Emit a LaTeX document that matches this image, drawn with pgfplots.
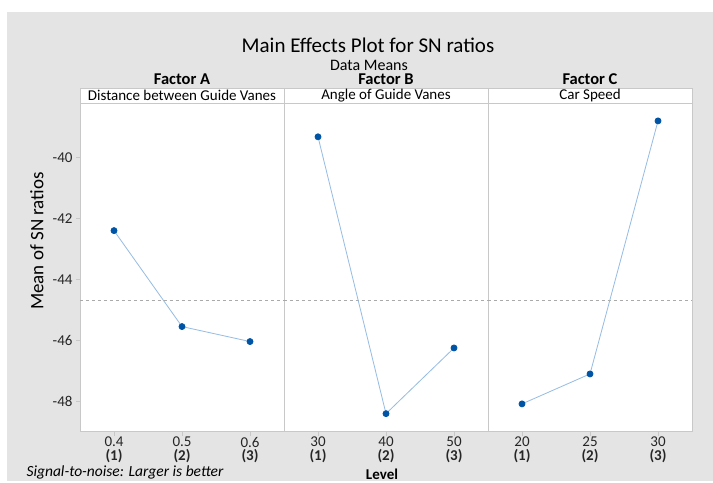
\documentclass[border=0pt]{standalone}
\usepackage{pgfplots}
\usepackage{pgfplotstable}
\pgfplotsset{compat=1.18}
\usepackage{fontspec}
\setmainfont{Carlito}
\definecolor{bg}{RGB}{228,228,228}
\definecolor{frame}{RGB}{200,200,200}
\definecolor{lineblue}{RGB}{150,188,228}
\definecolor{markblue}{RGB}{0,84,166}
\definecolor{meangray}{RGB}{170,170,170}

\pgfplotstableread{
lvl sn
1 -42.40
2 -45.54
3 -46.03
}\dataA
\pgfplotstableread{
lvl sn
1 -39.33
2 -48.39
3 -46.24
}\dataB
\pgfplotstableread{
lvl sn
1 -48.07
2 -47.09
3 -38.81
}\dataC

\begin{document}
\begin{tikzpicture}[x=1bp,y=1bp]
\path (0,0) rectangle (713,481);
\fill[bg] (7,0) rectangle (713,469);
\pgfplotsset{panel/.style={
  anchor=south west, scale only axis, width=204bp, height=328.2bp,
  xmin=0.5, xmax=3.5, ymin=-48.98, ymax=-38.24,
  axis background/.style={fill=white},
  axis line style={frame, line width=0.6bp},
  tick style={frame, line width=0.6bp}, tick align=outside,
  major tick length=4bp,
  xtick={1,2,3},
  xticklabel style={align=center, font=\fontsize{15bp}{13.5bp}\selectfont, inner sep=1bp, text=black!85},
  yticklabel style={font=\fontsize{15bp}{15bp}\selectfont, text=black!85},
  clip=false,
}}
\begin{axis}[panel, name=A, at={(80bp,49.3bp)},
  ytick={-48,-46,-44,-42,-40}, yticklabels={{-48},{-46},{-44},{-42},{-40}},
  xticklabels={{0.4\\\textbf{(1)}},{0.5\\\textbf{(2)}},{0.6\\\textbf{(3)}}}]
\addplot[meangray, dashed, line width=0.8bp] coordinates {(0.5,-44.69) (3.5,-44.69)};
\addplot[lineblue, line width=0.8bp, mark=*, mark size=3bp, mark options={markblue, fill=markblue}] table[x=lvl, y=sn] {\dataA};
\end{axis}
\begin{axis}[panel, name=B, at={(284bp,49.3bp)}, ytick=\empty,
  xticklabels={{30\\\textbf{(1)}},{40\\\textbf{(2)}},{50\\\textbf{(3)}}}]
\addplot[meangray, dashed, line width=0.8bp] coordinates {(0.5,-44.69) (3.5,-44.69)};
\addplot[lineblue, line width=0.8bp, mark=*, mark size=3bp, mark options={markblue, fill=markblue}] table[x=lvl, y=sn] {\dataB};
\end{axis}
\begin{axis}[panel, name=C, at={(488bp,49.3bp)}, ytick=\empty,
  xticklabels={{20\\\textbf{(1)}},{25\\\textbf{(2)}},{30\\\textbf{(3)}}}]
\addplot[meangray, dashed, line width=0.8bp] coordinates {(0.5,-44.69) (3.5,-44.69)};
\addplot[lineblue, line width=0.8bp, mark=*, mark size=3bp, mark options={markblue, fill=markblue}] table[x=lvl, y=sn] {\dataC};
\end{axis}
% strips
\foreach \n in {A,B,C} {
  \draw[frame, fill=white, line width=0.6bp] (\n.north west) rectangle ([yshift=15.5bp]\n.north east);
}
\node[font=\fontsize{15bp}{16bp}\selectfont] at ([yshift=7.75bp]A.north) {Distance between Guide Vanes};
\node[font=\fontsize{15bp}{16bp}\selectfont] at ([yshift=7.75bp]B.north) {Angle of Guide Vanes};
\node[font=\fontsize{15bp}{16bp}\selectfont] at ([yshift=7.75bp]C.north) {Car Speed};
\node[font=\bfseries\fontsize{16.5bp}{17bp}\selectfont] at ([yshift=24bp]A.north) {Factor A};
\node[font=\bfseries\fontsize{16.5bp}{17bp}\selectfont] at ([yshift=24bp]B.north) {Factor B};
\node[font=\bfseries\fontsize{16.5bp}{17bp}\selectfont] at ([yshift=24bp]C.north) {Factor C};
\node[font=\fontsize{21bp}{23bp}\selectfont] at (368,436) {Main Effects Plot for SN ratios};
\node[font=\fontsize{16bp}{18bp}\selectfont] at (369,416) {Data Means};
\node[font=\fontsize{19bp}{21bp}\selectfont, rotate=90] at (37,240) {Mean of SN ratios};
\node[font=\bfseries\fontsize{15bp}{15bp}\selectfont] at (382,7) {Level};
\node[font=\itshape\fontsize{15.5bp}{16bp}\selectfont, anchor=west] at (23,9) {Signal-to-noise: Larger is better};
\end{tikzpicture}
\end{document}
